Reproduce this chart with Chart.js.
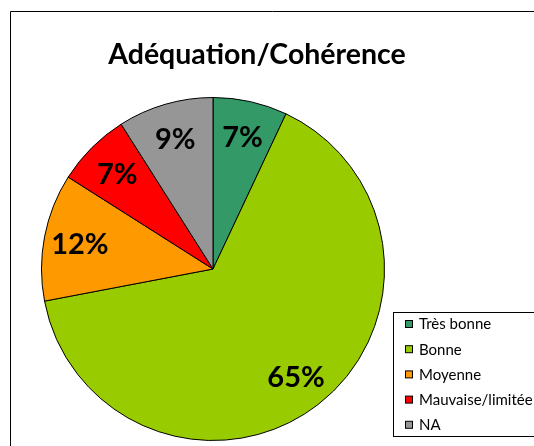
<!DOCTYPE html>
<html><head><meta charset="utf-8">
<script src="https://cdn.jsdelivr.net/npm/chart.js@4/dist/chart.umd.min.js"></script>
<style>html,body{margin:0;padding:0;background:#fff}#wrap{width:534px;height:446px}</style>
</head><body><div id="wrap"><canvas id="c" width="534" height="446"></canvas></div>
<script>
const titleText = "Adéquation/Cohérence";
const categories = ["Très bonne", "Bonne", "Moyenne", "Mauvaise/limitée", "NA"];
const values = [7, 65, 12, 7, 9];
const pctLabels = ["7%", "65%", "12%", "7%", "9%"];
const colors = ["#339966", "#99CC00", "#FF9900", "#FF0000", "#969696"];

const FONT = "Lato, 'Open Sans', sans-serif";

const decor = {
  id: 'decor',
  afterDraw(chart) {
    const ctx = chart.ctx;
    ctx.save();
    // outer frame
    ctx.strokeStyle = '#000'; ctx.lineWidth = 1;
    ctx.beginPath();
    ctx.moveTo(10.5, 460); ctx.lineTo(10.5, 11.5); ctx.lineTo(560, 11.5);
    ctx.stroke();
    // title
    ctx.fillStyle = '#000';
    ctx.font = "bold 28.5px " + FONT;
    ctx.textAlign = 'center'; ctx.textBaseline = 'alphabetic';
    ctx.fillText(titleText, 257, 64);
    // percent labels
    const meta = chart.getDatasetMeta(0);
    ctx.font = "bold 29px " + FONT;
    ctx.textBaseline = 'alphabetic';
    meta.data.forEach((arc, i) => {
      const p = arc.getProps(['x','y','startAngle','endAngle','outerRadius'], true);
      const a = (p.startAngle + p.endAngle) / 2;
      const r = p.outerRadius * 0.79;
      ctx.fillText(pctLabels[i], p.x + Math.cos(a) * r, p.y + Math.sin(a) * r + 10.5);
    });
    // legend
    ctx.fillStyle = '#fff';
    ctx.fillRect(393.5, 312.5, 200, 124);
    ctx.strokeRect(393.5, 312.5, 200, 124);
    ctx.font = "15px " + FONT;
    ctx.textAlign = 'left'; ctx.textBaseline = 'middle';
    categories.forEach((c, i) => {
      const y = 324.5 + i * 25.2;
      ctx.fillStyle = colors[i];
      ctx.fillRect(405.5, y - 4, 7, 7);
      ctx.strokeStyle = '#000';
      ctx.strokeRect(405.5, y - 4, 7, 7);
      ctx.fillStyle = '#000';
      ctx.fillText(c, 419, y);
    });
    ctx.restore();
  }
};

new Chart(document.getElementById('c'), {
  type: 'pie',
  data: { labels: categories, datasets: [{ data: values, backgroundColor: colors, borderColor: '#000', borderWidth: 1 }] },
  options: {
    responsive: false, animation: false, maintainAspectRatio: false,
    layout: { padding: { left: 41, right: 149, top: 97, bottom: 5 } },
    plugins: { legend: { display: false }, title: { display: false }, tooltip: { enabled: false } }
  },
  plugins: [decor]
});
</script></body></html>
